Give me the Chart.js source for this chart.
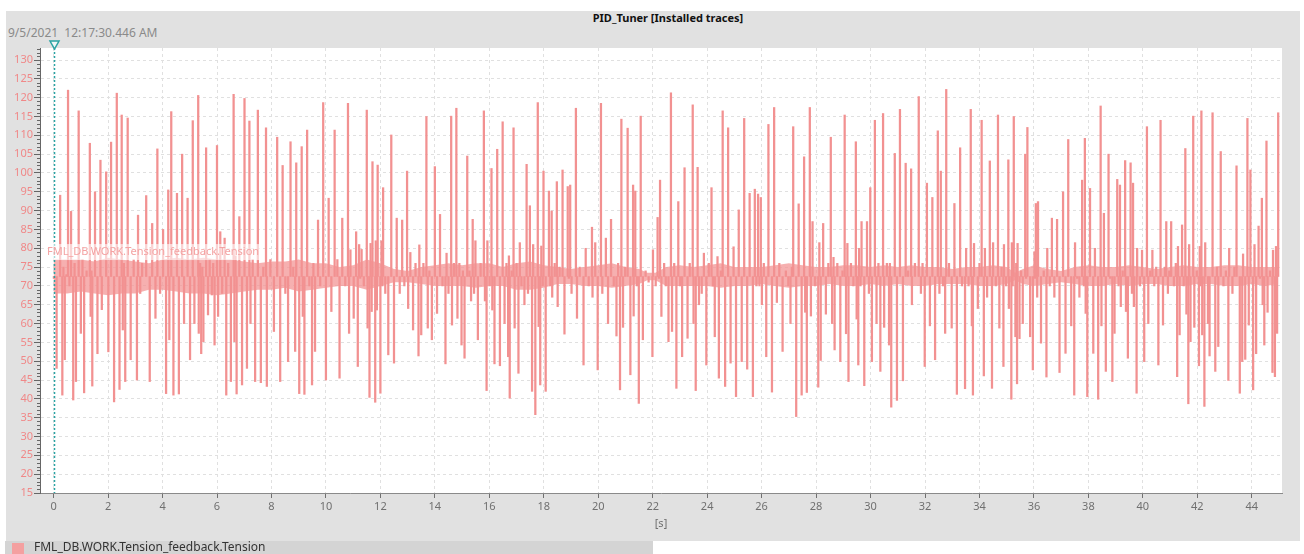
<!DOCTYPE html>
<html>
<head>
<meta charset="utf-8">
<script src="https://cdn.jsdelivr.net/npm/chart.js@4/dist/chart.umd.min.js"></script>
<style>
  html,body{margin:0;padding:0;background:#fff;}
  body{width:1304px;height:554px;overflow:hidden;position:relative;font-family:'Noto Sans','Open Sans',sans-serif;}
  #panel{position:absolute;left:6px;top:11px;width:1294px;height:530px;background:#e1e1e1;}
  #title{position:absolute;left:0;top:11px;width:1336px;text-align:center;font-weight:bold;font-size:11px;line-height:14px;color:#111;}
  #stamp{position:absolute;left:8px;top:25px;font-size:12px;line-height:16px;color:#8a8a8a;white-space:pre;}
  #legbar{position:absolute;left:5px;top:541px;width:648px;height:13px;background:#d4d4d4;}
  #legsq{position:absolute;left:12px;top:543px;width:12px;height:11px;background:#f4a0a0;}
  #legtxt{position:absolute;left:34px;top:539px;font-size:12px;line-height:16px;color:#333;white-space:pre;}
  canvas{position:absolute;left:0;top:0;}
</style>
</head>
<body>
<div id="panel"></div>
<div id="title">PID_Tuner [Installed traces]</div>
<div id="stamp">9/5/2021  12:17:30.446 AM</div>
<canvas id="c" width="1304" height="554"></canvas>
<div id="legbar"></div>
<div id="legsq"></div>
<div id="legtxt">FML_DB.WORK.Tension_feedback.Tension</div>
<script>
// ---------------- data ----------------
const traceName = 'FML_DB.WORK.Tension_feedback.Tension';
const xTickValues = [0,2,4,6,8,10,12,14,16,18,20,22,24,26,28,30,32,34,36,38,40,42,44];
const yTickValues = [15,20,25,30,35,40,45,50,55,60,65,70,75,80,85,90,95,100,105,110,115,120,125,130];

// resting level of the tension signal
const restLevel = 72.5;

// dense noise band around the resting level: time (s), lower edge, upper edge
const bandTimes = [0.0,0.5,1.0,1.5,2.0,2.5,3.0,3.5,4.0,4.5,5.0,5.5,6.0,6.5,7.0,7.5,8.0,8.5,9.0,9.5,
 10.0,10.5,11.0,11.5,12.0,12.5,13.0,13.5,14.0,14.5,15.0,15.5,16.0,16.5,17.0,17.5,18.0,18.5,19.0,19.5,
 20.0,20.5,21.0,21.5,21.8,22.1,22.5,23.0,23.5,24.0,24.5,25.0,25.5,26.0,26.5,27.0,27.5,28.0,28.5,29.0,
 29.5,30.0,30.5,31.0,31.5,32.0,32.5,33.0,33.5,34.0,34.5,35.0,35.3,35.6,36.0,36.5,37.0,37.5,38.0,38.5,
 39.0,39.5,40.0,40.5,41.0,41.5,42.0,42.5,43.0,43.5,44.0,44.5,44.97];
const bandLower = [68,68,68.5,68,67.5,68,68,69,69,68.5,68,68,67.5,68,68.5,69,69,69.5,68.5,69,
 69.5,70,70,69,70,71,71,70.5,70,70,70,69.5,70,70,69,69,69.5,70.5,70.5,70,
 70,69.5,70,70.5,71.5,71.5,70,70,70,70,69.5,70,70,70.5,70,69.5,70,70,70.5,70,
 70,70.5,70,70.5,70,70,70.5,70.5,70.5,70,70,70.5,71.5,70.5,70,70.5,71,70.5,70,70,
 70.5,70,70.5,70.5,70,70,70.5,70.5,70,70,70.5,70,70.5];
const bandUpper = [77,77,77,76.5,77.5,77,76.5,76,77,77.5,77,77.5,77,77,76.5,76,76.5,76.5,77,76,
 76,75,75.5,77,76,74.5,74,75,75.5,76,75.5,76,76,75,76,76.5,75.5,75,74.5,75,
 75.5,76,75,74.5,73.5,73.5,75,75.5,75,75.5,76,75,75,75,75.5,76,75.5,75,75,75.5,
 75.5,75,75.5,75,75.5,75,75,74.5,75,75,75.5,75,73.5,74.5,75.5,74.5,74,75,75.5,75,
 75,75.5,75,74.5,75,75.5,75,75,75.5,75.5,75,75,75];

// individual samples [time (s), tension]
const tension0to5s = [[0.01,72],[0.11,48.1],[0.24,94.1],[0.32,41],[0.36,75],[0.41,50.4],[0.47,73],[0.53,122],[0.58,70],[0.64,89.8],
 [0.72,39.7],[0.77,76],[0.82,44.6],[0.92,116.5],[1.00,57.4],[1.06,77],[1.12,41.6],[1.21,74],[1.33,107.9],[1.36,61.9],
 [1.39,74],[1.42,43.4],[1.52,95],[1.61,52],[1.72,103.4],[1.77,63.7],[1.93,100.3],[2.01,52.5],[2.11,108.2],[2.22,39.2],
 [2.32,121.2],[2.42,42.5],[2.50,115.4],[2.54,58.3],[2.58,76],[2.63,44.6],[2.72,114.6],[2.83,50.4],[2.94,77],[3.06,45],
 [3.10,88.8],[3.18,68],[3.25,76],[3.40,94],[3.53,44.6],[3.62,86.6],[3.74,61.4],[3.81,106.4],[3.91,68],[4.02,85],
 [4.13,41.4],[4.21,95.5],[4.25,55.7],[4.32,116.3],[4.40,41],[4.53,94.6],[4.60,41.3],[4.72,105],[4.79,60],[4.92,93.3],
 [5.01,50.4],[5.11,113.9],[5.17,60],[5.31,120.6],[5.33,57.4]];

const tension5to11s = [[5.38,76],[5.42,52],[5.46,75],[5.50,55.2],[5.60,106.7],[5.67,62.3],[5.73,77],[5.81,67.6],[5.86,76],[5.91,54.3],
 [6.00,107.3],[6.04,61.9],[6.12,84.4],[6.19,68],[6.28,82.7],[6.34,41],[6.41,76],[6.51,44.6],[6.61,120.9],[6.64,55.2],
 [6.68,78],[6.72,41.3],[6.82,88.4],[6.92,43.7],[7.01,119.8],[7.10,48.1],[7.19,113.8],[7.23,60],[7.31,77],[7.40,44.6],
 [7.50,116.7],[7.61,44.3],[7.70,75],[7.80,112],[7.83,43.3],[7.96,77],[8.09,57.9],[8.21,109.5],[8.32,44.6],[8.41,102],
 [8.51,68],[8.61,49.9],[8.70,108.3],[8.80,75],[8.87,52.6],[8.91,102.7],[9.02,41.4],[9.11,107],[9.15,61.9],[9.21,41.2],
 [9.31,111.4],[9.39,70],[9.49,43.7],[9.54,76],[9.60,52.6],[9.71,87.5],[9.79,70],[9.90,118.7],[10.00,45],[10.10,93.3],
 [10.20,63.2],[10.32,111.4],[10.42,77],[10.50,45.5],[10.60,88],[10.71,70],[10.81,118.5],[10.85,57.4],[10.90,79.6]];

const tension11to17s = [[11.02,61.4],[11.11,84.4],[11.17,48.6],[11.22,81],[11.26,72],[11.31,79.7],[11.39,70],[11.50,116.7],[11.53,58.8],[11.60,40.4],
 [11.64,81.3],[11.68,63.2],[11.71,103],[11.81,39.1],[11.83,82],[11.87,63.6],[11.90,102.1],[12.00,41.5],[12.04,82],[12.07,70],
 [12.10,96.1],[12.18,68],[12.29,51.7],[12.40,110.1],[12.50,49.5],[12.60,88],[12.71,68],[12.80,87.5],[12.88,70],[12.98,100.5],
 [13.02,64],[13.10,78.9],[13.20,58.3],[13.29,76],[13.40,51.4],[13.43,80.9],[13.50,57],[13.58,76],[13.69,115],[13.74,58.8],
 [13.80,74],[13.89,55.7],[14.00,101.7],[14.08,62.7],[14.19,89],[14.28,70],[14.39,49.3],[14.43,78.7],[14.50,68],[14.60,115.1],
 [14.63,59.6],[14.70,76],[14.79,117.2],[14.83,61.4],[14.90,76],[14.98,54.3],[15.03,74],[15.09,50.8],[15.19,104.5],[15.27,74],
 [15.33,66],[15.39,87.7],[15.44,68],[15.49,82],[15.58,55.7],[15.68,76],[15.80,116.5],[15.84,66],[15.90,42.2],[15.93,82],
 [16.01,70],[16.08,101.2],[16.11,63.6],[16.19,49.3],[16.29,106.3],[16.39,48.8],[16.49,113.6],[16.56,60],[16.63,76],[16.69,51.2],
 [16.72,78],[16.75,40.2]];

const tension17to22s = [[16.82,74],[16.89,112],[16.93,58.8],[17.00,76],[17.07,46.8],[17.12,81.5],[17.18,70],[17.29,65],[17.37,102.3],[17.42,68],
 [17.49,91.3],[17.57,42],[17.61,81],[17.69,35.8],[17.78,118.7],[17.81,59.2],[17.87,43.7],[17.91,80.6],[17.96,70],[17.99,100.5],
 [18.07,42],[18.19,95.2],[18.24,70],[18.29,89.9],[18.31,67],[18.40,76],[18.48,97.7],[18.51,64.5],[18.58,75],[18.69,100.8],
 [18.76,57.2],[18.88,96.4],[18.92,72],[18.97,96.8],[19.02,68],[19.18,117.2],[19.22,61.4],[19.32,75],[19.46,49],[19.54,80],
 [19.65,70],[19.77,85.6],[19.79,67],[19.89,81.5],[19.98,47.7],[20.10,118.5],[20.15,68],[20.28,82.7],[20.36,60],[20.47,87.7],
 [20.57,70],[20.67,56.7],[20.73,76],[20.80,42.4],[20.85,114.3],[20.91,59],[20.99,75],[21.08,111.9],[21.18,46.4],[21.28,96.8],
 [21.30,62],[21.36,95.2],[21.42,70],[21.49,38.8],[21.56,115.1],[21.64,55.7],[21.74,74],[21.85,71],[21.99,51.2],[22.01,79.6],
 [22.11,70],[22.18,88.2],[22.23,72],[22.27,98.1],[22.32,61.9]];

const tension22to28s = [[22.42,76],[22.48,70],[22.58,55.2],[22.67,121.3],[22.71,57.9],[22.79,76],[22.87,42.8],[22.94,92.4],[23.01,70],[23.08,51.2],
 [23.17,101.4],[23.28,56.1],[23.36,76],[23.47,118.1],[23.50,60],[23.58,42.2],[23.65,101.5],[23.70,65],[23.80,68],[23.88,78.7],
 [23.97,49],[24.06,76],[24.16,96.1],[24.21,70],[24.28,56.5],[24.38,77.8],[24.43,45.5],[24.50,74],[24.57,116.5],[24.66,43.3],
 [24.77,112],[24.86,49.5],[24.97,80.4],[25.06,40.6],[25.16,90.2],[25.27,49.9],[25.36,114.5],[25.47,47.9],[25.56,94.6],[25.68,40.6],
 [25.75,95.7],[25.81,70],[25.87,94.4],[25.92,70],[25.97,93.5],[26.01,65],[26.08,76],[26.17,51.2],[26.25,112.9],[26.38,41.8],
 [26.46,117.4],[26.56,65.6],[26.65,76],[26.77,52.6],[26.89,74],[26.98,70],[27.06,60],[27.11,75],[27.16,112.3],[27.27,35.3],
 [27.36,91.8],[27.47,41],[27.56,104.3],[27.60,63],[27.66,41.7],[27.77,117.4],[27.81,62],[27.87,87.1],[27.96,70],[28.08,43.1]];

const tension28to34s = [[28.12,81.5],[28.17,50.2],[28.26,86.6],[28.36,62.5],[28.45,76],[28.54,109.5],[28.59,60],[28.64,77.6],[28.68,53],[28.78,76],
 [28.89,49.9],[28.97,74],[29.05,115.4],[29.10,57.3],[29.15,81.3],[29.19,44.6],[29.28,76],[29.37,70],[29.46,108.3],[29.49,61.2],
 [29.55,49],[29.58,80],[29.63,70],[29.67,87.1],[29.77,43.5],[29.87,87.1],[29.94,68],[29.99,96.1],[30.05,49.9],[30.16,114],
 [30.22,60],[30.29,76],[30.36,47.3],[30.46,115.8],[30.50,59],[30.60,76],[30.68,54.3],[30.71,76],[30.76,37.8],[30.89,105.2],
 [30.97,39.6],[31.08,116.9],[31.19,44.8],[31.29,102.6],[31.38,74],[31.49,101.1],[31.52,65],[31.63,76],[31.77,120.3],[31.85,68],
 [31.91,76],[31.99,48.6],[32.07,97.3],[32.18,59.4],[32.27,93.5],[32.37,50.4],[32.47,111.2],[32.53,68],[32.58,100.5],[32.66,70],
 [32.74,57.4],[32.78,122.2],[32.88,76],[32.98,58.8],[33.08,91.9],[33.17,41.2],[33.29,106.7],[33.36,70],[33.47,42.7],[33.51,80],
 [33.60,70],[33.68,116.9],[33.72,59.4]];

const tension34to40s = [[33.76,41],[33.80,81.3],[33.94,64],[34.00,76],[34.08,114],[34.16,46.1],[34.20,80],[34.28,67],[34.38,103.2],[34.46,42.8],
 [34.50,81.5],[34.60,70],[34.68,115.4],[34.73,58.8],[34.81,75],[34.88,48.6],[34.90,81],[34.98,70],[35.06,103.5],[35.08,64],
 [35.17,39.9],[35.19,81.5],[35.22,70],[35.26,115],[35.32,56.5],[35.35,76],[35.38,44],[35.40,81.3],[35.47,56],[35.53,74],
 [35.59,60],[35.68,105],[35.71,72],[35.76,112.1],[35.86,56.5],[35.96,47.7],[36.02,79.1],[36.04,72],[36.07,91.9],[36.12,67],
 [36.15,92.4],[36.26,54.8],[36.36,74],[36.46,45.8],[36.49,80],[36.58,70],[36.66,88],[36.75,67],[36.85,87.7],[36.94,47],
 [37.07,95],[37.16,52.1],[37.26,108.9],[37.37,59.4],[37.48,41],[37.51,81.5],[37.59,72],[37.67,67],[37.77,98.1],[37.83,70],
 [37.87,109.2],[37.90,62.7],[37.96,40.6],[38.06,95.9],[38.18,52.1],[38.24,80],[38.36,39.9],[38.45,117.8],[38.48,59.4],[38.57,89.3],
 [38.64,47.3],[38.74,105],[38.80,72],[38.88,44.6],[38.96,57.4],[39.06,98.3],[39.11,70],[39.16,96.8],[39.19,64.5],[39.26,74],
 [39.35,103.3],[39.38,63.2],[39.45,50.8],[39.55,102.7],[39.60,68]];

const tension40to45s = [[39.64,97.3],[39.67,64.5],[39.77,41.5],[39.79,80],[39.89,70],[39.97,79.5],[40.05,49.9],[40.15,112.3],[40.20,60],[40.27,74],
 [40.35,79.5],[40.42,70],[40.49,75],[40.57,49],[40.65,114],[40.74,59.6],[40.81,75],[40.86,87.1],[40.92,68],[40.97,74],
 [41.04,87.1],[41.14,70],[41.21,76],[41.26,45.9],[41.29,80.5],[41.35,57],[41.44,86.2],[41.50,70],[41.56,106.5],[41.60,62.5],
 [41.67,38.7],[41.70,81],[41.75,55.2],[41.85,115.1],[41.89,59],[41.98,74],[42.06,48.8],[42.09,80.5],[42.12,70],[42.15,116.5],
 [42.18,57],[42.26,38],[42.29,81.5],[42.39,60],[42.45,51.4],[42.56,116],[42.66,47.3],[42.72,75],[42.77,53.9],[42.86,105.7],
 [42.96,70],[43.05,74],[43.14,44.9],[43.17,80],[43.29,68],[43.36,75],[43.44,101.9],[43.56,41.5],[43.65,49.9],[43.68,78.5],
 [43.76,50.5],[43.84,114.5],[43.89,59.6],[43.95,100.8],[44.05,42.4],[44.10,81],[44.16,52],[44.25,85.9],[44.30,72],[44.37,93.3],
 [44.40,65],[44.46,54.3],[44.54,108.5],[44.58,63],[44.67,74],[44.76,47],[44.78,79.5],[44.85,45.9],[44.89,80.5],[44.93,57.4],
 [44.97,116]];

// ---------------- build the library datasets ----------------
const segments = [tension0to5s, tension5to11s, tension11to17s, tension17to22s, tension22to28s, tension28to34s, tension34to40s, tension40to45s];
const samples = segments.flat();
// each sample is drawn as a vertical excursion from the resting level
const spikeData = samples.map(p => ({x: p[0], y: [Math.min(restLevel, p[1]), Math.max(restLevel, p[1])]}));
const upperData = bandTimes.map((t, i) => ({x: t, y: bandUpper[i]}));
const lowerData = bandTimes.map((t, i) => ({x: t, y: bandLower[i]}));

const FONT = "'Noto Sans','Open Sans',sans-serif";
const teal = '#2aa3a3';
const traceColor = '#f29191';

const decor = {
  id: 'decor',
  beforeDraw(chart) {
    const {ctx, chartArea: a} = chart;
    ctx.save();
    ctx.fillStyle = '#ffffff';
    ctx.fillRect(a.left, a.top, a.right - a.left, a.bottom - a.top);
    ctx.restore();
  },
  afterDatasetsDraw(chart) {
    const {ctx, chartArea: a, scales: {x, y}} = chart;
    ctx.save();
    const x0 = Math.round(x.getPixelForValue(0)) + 0.5;
    ctx.strokeStyle = teal;
    ctx.lineWidth = 1.5;
    ctx.setLineDash([2, 2]);
    ctx.beginPath(); ctx.moveTo(x0, a.top); ctx.lineTo(x0, a.bottom); ctx.stroke();
    ctx.setLineDash([]);
    ctx.font = '11px ' + FONT;
    const ly = y.getPixelForValue(79);
    const lx = a.left + 7;
    const w = ctx.measureText(traceName).width;
    ctx.fillStyle = 'rgba(255,255,255,0.6)';
    ctx.fillRect(lx - 2, ly - 8, w + 4, 16);
    ctx.fillStyle = '#f4a3a3';
    ctx.textBaseline = 'middle';
    ctx.textAlign = 'left';
    ctx.fillText(traceName, lx, ly);
    ctx.restore();
  },
  afterDraw(chart) {
    const {ctx, chartArea: a, scales: {x, y}} = chart;
    ctx.save();
    ctx.strokeStyle = '#666';
    ctx.lineWidth = 1;
    for (let v = Math.ceil(y.min); v <= y.max; v++) {
      if (v % 5 === 0) continue;
      const py = Math.round(y.getPixelForValue(v)) + 0.5;
      ctx.beginPath(); ctx.moveTo(a.left - 3, py); ctx.lineTo(a.left, py); ctx.stroke();
    }
    const x0 = Math.round(x.getPixelForValue(0)) + 0.5;
    ctx.strokeStyle = teal;
    ctx.fillStyle = '#eef6f6';
    ctx.lineWidth = 1.5;
    ctx.beginPath();
    ctx.moveTo(x0 - 4.5, a.top - 7);
    ctx.lineTo(x0 + 4.5, a.top - 7);
    ctx.lineTo(x0, a.top + 1);
    ctx.closePath();
    ctx.fill(); ctx.stroke();
    ctx.fillStyle = '#707070';
    ctx.font = '11px ' + FONT;
    ctx.textAlign = 'center';
    ctx.textBaseline = 'middle';
    ctx.fillText('[s]', (a.left + a.right) / 2, 524);
    ctx.restore();
  }
};

new Chart(document.getElementById('c').getContext('2d'), {
  type: 'bar',
  data: {
    datasets: [
      {type: 'bar', label: traceName, data: spikeData, backgroundColor: traceColor, borderWidth: 0,
       barThickness: 1.6, grouped: false, order: 1},
      {type: 'line', label: 'band upper', data: upperData, borderColor: 'rgba(242,145,145,0)', borderWidth: 0,
       backgroundColor: 'rgba(242,145,145,0.72)', pointRadius: 0, tension: 0, fill: '+1', order: 2},
      {type: 'line', label: 'band lower', data: lowerData, borderColor: 'rgba(242,145,145,0)', borderWidth: 0,
       pointRadius: 0, tension: 0, fill: false, order: 3}
    ]
  },
  options: {
    responsive: false,
    animation: false,
    devicePixelRatio: 1,
    layout: {padding: {top: 48, right: 22, left: 0, bottom: 0}},
    plugins: {legend: {display: false}, tooltip: {enabled: false}},
    scales: {
      x: {
        type: 'linear', min: -0.5, max: 45.11, offset: false,
        afterFit(s) { s.height = 61; },
        afterBuildTicks(s) { s.ticks = xTickValues.map(v => ({value: v})); },
        grid: {color: '#e0e0e0', tickColor: '#707070', tickLength: 5, lineWidth: 1, offset: false},
        border: {display: true, color: '#8a8a8a', width: 1, dash: [3, 3]},
        ticks: {color: '#707070', font: {family: FONT, size: 11}, padding: 2, maxRotation: 0, autoSkip: false}
      },
      y: {
        type: 'linear', min: 15, max: 133.2, beginAtZero: false,
        afterFit(s) { s.width = 40; },
        afterBuildTicks(s) { s.ticks = yTickValues.map(v => ({value: v})); },
        grid: {color: '#e0e0e0', tickColor: '#666', tickLength: 6, lineWidth: 1},
        border: {display: true, color: '#666', width: 1, dash: [3, 3]},
        ticks: {color: '#f08888', font: {family: FONT, size: 11}, padding: 1, autoSkip: false}
      }
    }
  },
  plugins: [decor]
});
</script>
</body>
</html>
